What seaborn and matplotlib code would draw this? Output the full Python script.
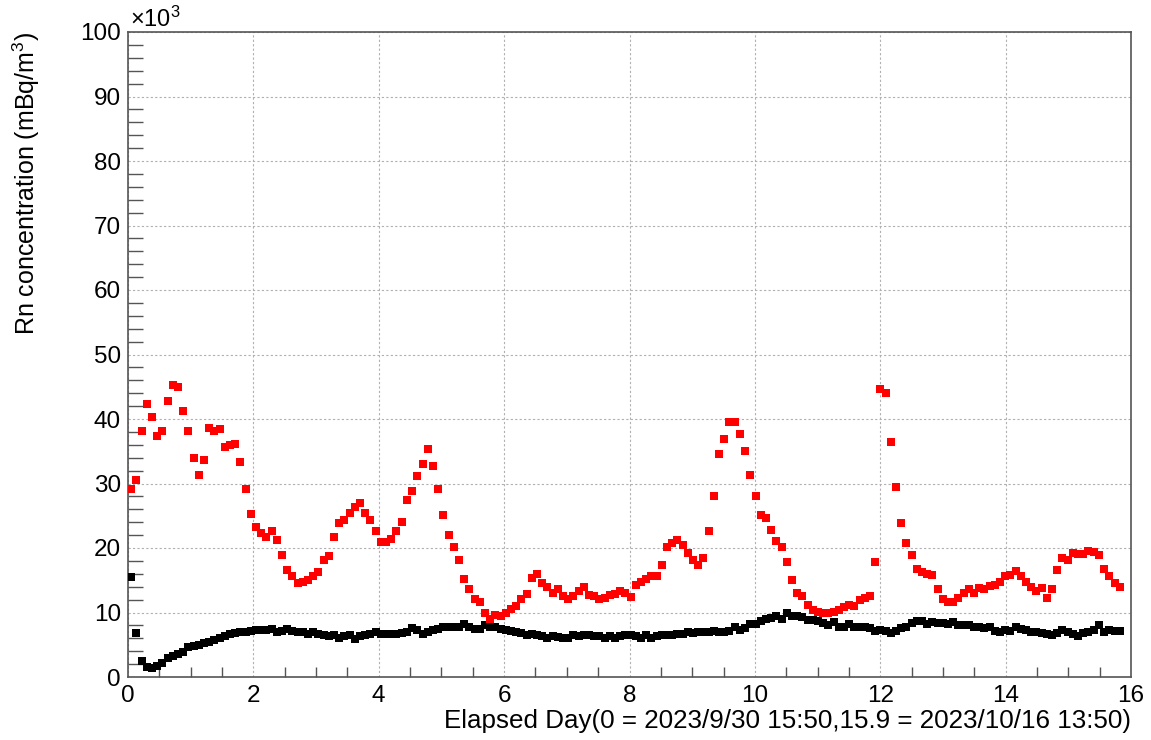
import numpy as np
import pandas as pd
import matplotlib
matplotlib.use("Agg")
import matplotlib.pyplot as plt
from matplotlib.ticker import MultipleLocator
import seaborn as sns

sns.set_theme(style="white")
plt.rcParams['font.family'] = ['Liberation Sans', 'DejaVu Sans']
plt.rcParams['mathtext.fontset'] = 'custom'
plt.rcParams['mathtext.rm'] = 'Liberation Sans'
plt.rcParams['mathtext.it'] = 'Liberation Sans:italic'
plt.rcParams['text.color'] = 'black'
plt.rcParams['axes.labelcolor'] = 'black'
plt.rcParams['xtick.labelcolor'] = 'black'
plt.rcParams['ytick.labelcolor'] = 'black'

# sampling: one point every ~2 hours, starting just after day 0
t0 = 0.05
dt = 0.083

# red series (x10^3 mBq/m^3)
red_vals = [
    29.1, 30.6, 38.2, 42.4, 40.3, 37.4, 38.1, 42.8, 45.3, 45.0, 41.3, 38.2, 34.0, 31.3,
    33.6, 38.6, 38.2, 38.4, 35.7, 35.9, 36.1, 33.3, 29.1, 25.3, 23.2, 22.3, 21.7, 22.6,
    21.2, 18.9, 16.6, 15.7, 14.5, 14.8, 15.0, 15.6, 16.3, 18.1, 18.7, 21.7, 23.9, 24.4,
    25.5, 26.3, 26.9, 25.5, 24.3, 22.6, 21.0, 20.9, 21.4, 22.7, 24.0, 27.5, 28.8, 31.2,
    33.1, 35.3, 32.7, 29.1, 25.1, 22.0, 20.1, 18.1, 15.2, 13.6, 12.1, 11.7, 10.0, 9.0,
    9.6, 9.4, 10.0, 10.6, 11.0, 12.1, 12.9, 15.3, 16.0, 14.6, 14.0, 13.0, 13.6, 12.5,
    12.1, 12.6, 13.3, 13.9, 12.7, 12.6, 12.1, 12.2, 12.7, 12.9, 13.3, 13.1, 12.4, 14.3,
    14.8, 15.2, 15.7, 15.6, 17.4, 20.1, 20.8, 21.3, 20.5, 19.3, 18.1, 17.3, 18.5, 22.6,
    28.0, 34.5, 36.9, 39.6, 39.5, 37.6, 35.0, 31.3, 28.0, 25.1, 24.6, 22.8, 21.1, 20.2,
    17.9, 15.0, 13.0, 12.5, 11.1, 10.4, 10.1, 10.0, 10.0, 10.1, 10.4, 10.8, 11.1,
    11.0, 12.0, 12.3, 12.5, 17.8, 44.6, 44.0, 36.5, 29.4, 23.8, 20.8, 18.9, 16.7, 16.3,
    16.0, 15.8, 13.7, 12.1, 11.7, 11.6, 12.2, 13.0, 13.6, 13.1, 13.8, 13.7, 14.1, 14.3,
    14.8, 15.6, 15.8, 16.4, 15.6, 14.8, 13.9, 13.4, 13.8, 12.2, 13.7, 16.6, 18.4, 18.1,
    19.2, 19.0, 19.1, 19.5, 19.4, 18.9, 16.8, 15.7, 14.5, 13.9,
]

# black series (x10^3 mBq/m^3)
black_vals = [
    15.5, 6.8, 2.5, 1.6, 1.4, 1.7, 2.1, 2.9, 3.3, 3.5, 3.9, 4.6, 4.8, 5.0,
    5.2, 5.4, 5.7, 6.1, 6.4, 6.6, 6.8, 6.9, 7.0, 7.2, 7.3, 7.3, 7.3, 7.4,
    7.0, 7.2, 7.5, 7.2, 7.0, 7.0, 6.7, 7.0, 6.7, 6.5, 6.4, 6.5, 6.1, 6.4,
    6.5, 5.9, 6.3, 6.5, 6.7, 6.9, 6.7, 6.7, 6.7, 6.7, 6.8, 7.0, 7.6, 7.3,
    6.7, 7.0, 7.3, 7.4, 7.7, 7.7, 7.7, 7.7, 8.2, 7.7, 7.5, 7.5, 8.1, 7.7,
    7.8, 7.4, 7.3, 7.1, 6.9, 6.8, 6.5, 6.7, 6.5, 6.3, 6.0, 6.4, 6.2, 6.1,
    6.1, 6.5, 6.4, 6.5, 6.5, 6.4, 6.4, 6.1, 6.3, 6.1, 6.3, 6.5, 6.5, 6.3,
    6.1, 6.5, 6.0, 6.4, 6.5, 6.5, 6.5, 6.7, 6.7, 6.9, 6.8, 6.9, 6.9, 7.0,
    7.1, 7.0, 6.9, 7.2, 7.7, 7.3, 7.6, 8.2, 8.2, 8.7, 9.0, 9.2, 9.4, 9.0,
    9.9, 9.5, 9.4, 9.3, 8.9, 8.9, 8.7, 8.3, 8.1, 8.6, 7.7, 7.7, 8.2,
    7.8, 7.8, 7.7, 7.6, 7.2, 7.3, 7.2, 6.8, 7.1, 7.6, 7.7, 8.3, 8.7, 8.7,
    8.2, 8.5, 8.3, 8.3, 8.2, 8.5, 8.0, 8.0, 8.0, 7.8, 7.7, 7.6, 7.7, 7.2,
    7.0, 7.3, 7.2, 7.7, 7.5, 7.3, 7.0, 6.9, 6.8, 6.7, 6.5, 6.8, 7.3, 7.0,
    6.7, 6.3, 6.8, 7.0, 7.3, 8.0, 7.0, 7.3, 7.1, 7.1,
]

days = t0 + dt * np.arange(len(red_vals))
df_red = pd.DataFrame({"day": days, "conc": red_vals})
df_black = pd.DataFrame({"day": t0 + dt * np.arange(len(black_vals)), "conc": black_vals})

W, H = 1151, 740
fig = plt.figure(figsize=(W / 100, H / 100), dpi=100)
ax = fig.add_axes([128 / W, 1 - 677 / H, (1131 - 128) / W, (677 - 32) / H])

sns.scatterplot(data=df_black, x="day", y="conc", color="black", marker="s",
                s=28, linewidth=0, ax=ax, zorder=3)
sns.scatterplot(data=df_red, x="day", y="conc", color="red", marker="s",
                s=28, linewidth=0, ax=ax, zorder=4)

ax.set_xlim(0, 16)
ax.set_ylim(0, 100)
ax.xaxis.set_major_locator(MultipleLocator(2))
ax.xaxis.set_minor_locator(MultipleLocator(0.5))
ax.yaxis.set_major_locator(MultipleLocator(10))
ax.yaxis.set_minor_locator(MultipleLocator(2))

frame_col = "#555555"
for side in ["left", "bottom", "top", "right"]:
    ax.spines[side].set_color(frame_col)
    ax.spines[side].set_linewidth(1.2)

ax.tick_params(axis="x", which="major", direction="in", length=14, width=1,
               color=frame_col, labelsize=17.5, pad=6, top=False)
ax.tick_params(axis="x", which="minor", direction="in", length=7, width=1,
               color=frame_col, top=False, bottom=True)
ax.tick_params(axis="y", which="major", direction="in", length=21, width=1,
               color=frame_col, labelsize=17.5, pad=5, right=False)
ax.tick_params(axis="y", which="minor", direction="in", length=11, width=1,
               color=frame_col, right=False, left=True)

ax.grid(True, which="major", color="#b0b0b0", linestyle=(0, (2, 2)), linewidth=0.8)
ax.set_axisbelow(True)

ax.set_xlabel("Elapsed Day(0 = 2023/9/30 15:50,15.9 = 2023/10/16 13:50)",
              fontsize=18.7, loc="right")
ax.xaxis.set_label_coords(1.0, -0.049)
ax.set_ylabel("Rn concentration (mBq/m$^{3}$)", fontsize=18, loc="top")
ax.yaxis.set_label_coords(-0.086, 1.0)

ax.text(0.002, 1.0, r"$\times10^{3}$", transform=ax.transAxes,
        fontsize=17, ha="left", va="bottom")

fig.savefig("out.png", dpi=100)
